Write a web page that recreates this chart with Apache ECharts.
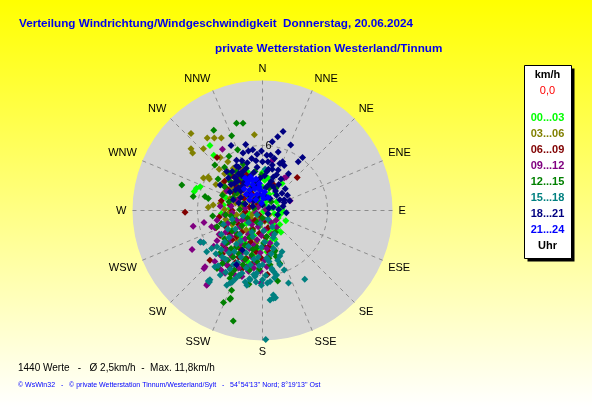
<!DOCTYPE html>
<html>
<head>
<meta charset="utf-8">
<script src="https://cdn.jsdelivr.net/npm/echarts/dist/echarts.min.js"></script>
<style>
html,body{margin:0;padding:0;}
#chart{width:592px;height:407px;}
</style>
</head>
<body>
<div id="chart"></div>
<script>
// ---------- DATA ----------
const directions = ['N','NNE','NE','ENE','E','ESE','SE','SSE','S','SSW','SW','WSW','W','WNW','NW','NNW'];
const speedMax = 12;          // km/h, outer ring
const speedStep = 6;          // km/h, inner ring
const timeSlots = ['00...03','03...06','06...09','09...12','12...15','15...18','18...21','21...24'];
const titleMain = 'Verteilung Windrichtung/Windgeschwindigkeit  Donnerstag, 20.06.2024';
const titleSub = 'private Wetterstation Westerland/Tinnum';
const summaryText = '1440 Werte   -   \u00D8 2,5km/h  -  Max. 11,8km/h';
const footerText = '\u00A9 WsWin32   -   \u00A9 private Wetterstation Tinnum/Westerland/Sylt   -   54\u00B054\'13\'\' Nord; 8\u00B019\'13\'\' Ost';
const legendUnit = 'km/h';
const legendCalm = '0,0';
const legendTimeUnit = 'Uhr';

// wind vectors [east km/h, north km/h], one list per time slot
const slot00_03 = [[-4.85,6.0],[-4.5,5.1],[1.8,2.5],[-6.3,1.75],[-6.1,2.05],[-5.75,2.2],[2.15,-0.95],[1.45,-0.7],[1.6,-0.4],[1.8,0.15],[1.05,-1.65],[1.35,-1.8],[1.15,-2.65],[1.15,1.6],
  [-0.5,1.0],[0.2,0.5],[-1.2,-0.3],[0.5,-0.8],[-0.3,-1.5],[0.9,0.2],[-1.8,0.6],[-2.5,-0.5],[-0.8,-2.3],[0.3,-2.8],[1.0,-1.2],[-1.5,-1.2],[-2.2,1.5],[0.0,2.2],[-1.0,2.8],[0.6,1.5],[1.3,0.8],[-3.0,0.2],[-2.8,-1.8],[-0.2,-3.6],[0.8,-3.3],[-1.6,-3.0],[-3.4,1.2],[-0.6,0.2],[0.1,-0.1],[-1.0,0.8],[0.4,0.9],[-0.4,-0.6],[1.6,-1.3],[0.7,-2.0],[-2.0,-2.5],[-3.3,-1.0],[-0.9,-4.2],[0.0,3.5],[-1.4,3.6],[1.2,2.0],[-2.6,2.6],[-3.8,-0.3],[1.9,-0.1],[0.3,-4.5],[-1.3,1.7],[-0.1,1.2],
  [-2.9,1.9],[-1.9,-3.4],[0.6,-1.0],[-0.7,2.0],[1.5,0.3],[-2.3,-0.9],[0.2,2.8],[-1.1,-1.8],[0.9,-2.6],[-3.6,0.5],[-0.2,0.6],[1.1,-0.3],[-1.7,-0.3],[0.5,3.0],[-2.7,1.0],[-0.5,-2.8],[1.7,-2.0],[-1.3,-4.8],[0.4,-3.8],[-2.1,2.3]];
const slot03_06 = [[-6.6,7.1],[-5.1,6.7],[-4.45,6.7],[-3.8,6.7],[-0.75,7.0],[-6.6,5.7],[-6.45,5.3],[-5.45,5.7],[-5.45,3.0],[-5.0,3.1],[-3.45,2.2],[-3.0,1.1],[-3.9,0.65],[-4.55,0.5],[-4.9,2.9],[-5.0,0.3],
  [-3.9,4.9],[-3.2,4.5],[-2.7,3.9],[-3.5,3.4],[-2.2,3.0],[-1.6,2.5],[-2.9,2.1],[-2.0,1.4],[-3.6,1.6],[-1.2,0.9],[-2.5,0.7],[-1.7,0.2],[-2.4,-0.4],[-3.1,-0.2],[-0.9,-0.3],[-1.5,-0.9],[-2.0,-1.6],[-0.5,0.5],[-1.0,1.9],[-2.6,2.6],[-4.3,2.4],[-3.4,-0.8],[-1.3,-2.2],[0.2,-1.0],[-0.6,-3.0],[-1.8,3.8],[-2.3,-2.8],[0.6,-0.4],
  [-3.2,3.6],[-2.1,2.2],[-1.4,1.5],[-3.7,2.5],[-2.8,-1.3],[-1.1,-0.7],[-3.5,0.1],[-2.0,0.4],[-0.8,1.3],[-4.0,3.8],[-1.5,-1.8],[-2.5,3.2],[-1.9,-0.4],[-0.3,-0.6],[-3.2,-1.8],[-1.0,-2.6]];
const slot06_09 = [[-7.15,-0.15],[-4.2,4.9],[3.2,3.05],[1.0,2.4],[-4.85,-4.6],[0.45,-5.9],[0.55,-3.35],
  [-2.8,3.2],[-1.9,2.6],[-3.3,2.0],[-1.0,1.6],[-2.3,1.0],[-0.4,0.6],[-3.0,0.5],[-1.6,-0.1],[-2.6,-0.9],[-0.7,-0.9],[-3.4,-1.5],[-1.9,-2.0],[-0.3,-2.1],[-2.8,-2.7],[-1.1,-2.9],[-3.6,-3.2],[-2.0,-3.6],[-0.6,-3.8],[-1.5,-4.4],[-2.9,-4.1],[0.3,-2.5],[-1.2,0.3],[-3.8,0.9],[-2.2,-1.3],[-0.2,1.9],[-1.5,3.3],[0.5,-1.6],[-3.1,-2.1],[-2.4,2.2],[-0.9,-1.7],[-4.0,-0.6],[-1.8,1.9],[0.1,-3.3],[-2.5,-4.8],[-3.7,-4.0],
  [-2.1,2.9],[-3.5,2.7],[-0.8,2.3],[-1.7,1.1],[-2.8,0.0],[-0.3,-0.4],[-3.9,-2.3],[-2.4,-2.4],[-1.4,-3.3],[-0.1,-4.4],[-3.3,-3.6],[-2.2,-4.3],[-0.9,-4.9],[-1.9,-5.4],[-3.1,-5.2],[0.6,-3.8],[-4.3,-1.6],[-1.1,-1.1],[0.2,-0.9],[-2.6,1.6]];
const slot09_12 = [[-3.7,5.65],[2.0,3.0],[2.2,3.1],[2.55,0.9],[-6.4,-1.45],[-5.4,-1.1],[-4.7,-1.5],[-6.5,-3.6],[-5.3,-5.2],[-5.4,-5.35],[-5.1,-6.8],[-3.45,-5.8],[-0.15,-6.7],[0.6,-4.1],[-5.15,-6.9],[-5.7,-2.9],[1.25,-0.9],[1.3,-1.55],[0.9,4.6],
  [-3.9,0.4],[-2.8,-0.2],[-1.7,-0.6],[-0.6,-0.2],[-4.2,-0.9],[-3.2,-1.2],[-2.1,-1.5],[-1.0,-1.3],[0.2,-1.8],[-4.0,-2.2],[-2.9,-2.4],[-1.6,-2.6],[-0.5,-2.7],[0.7,-3.0],[-3.6,-3.1],[-2.4,-3.3],[-1.2,-3.5],[-0.2,-3.9],[-3.9,-4.1],[-2.8,-4.3],[-1.7,-4.6],[-0.6,-4.8],[-3.3,-5.0],[-2.2,-5.3],[-4.4,-4.7],[-1.3,-5.6],[0.4,-5.2],[-2.6,-5.9],[-0.9,0.8],[-2.3,0.9],[-3.3,1.8],[-1.4,2.4],[0.3,0.1],[-4.5,-3.3],[-3.0,-3.8],[-1.9,-0.9],[-0.4,-1.5],[0.9,-2.2],[-2.0,3.5],[-0.8,-5.3],[-3.7,-5.6],
  [-3.5,-0.4],[-2.4,-0.9],[-1.3,-0.9],[-0.1,-0.9],[-4.4,-1.6],[-3.4,-2.0],[-2.5,-2.0],[-1.3,-2.2],[-0.1,-2.3],[-4.2,-2.8],[-3.1,-2.9],[-2.0,-3.1],[-0.8,-3.2],[0.4,-3.5],[-3.4,-3.6],[-2.0,-4.0],[-1.0,-4.3],[0.2,-4.6],[-3.6,-4.6],[-2.4,-4.9],[-1.5,-5.2],[-0.2,-5.6],[-2.9,-5.5],[-1.9,-6.1],[-4.0,-5.3],[-2.9,0.4],[-1.6,0.2],[-0.4,0.3],[0.8,-1.1]];
const slot12_15 = [[-2.4,8.05],[-1.8,8.05],[-4.5,7.4],[-2.85,6.9],[-2.3,5.6],[-7.45,2.35],[0.6,2.05],[1.25,2.1],[-6.4,1.3],[-5.3,1.3],[-5.0,1.1],[-4.2,-5.35],[-3.0,-6.25],[-2.85,-7.35],[-1.25,-6.8],[1.4,-6.5],[-2.95,-8.1],[1.6,-4.9],[1.1,-3.8],[1.25,-4.25],[-2.7,-10.2],[-3.0,-8.2],[-3.6,-8.5],[-2.9,-5.85],[1.15,-3.7],
  [-3.5,4.0],[-2.4,3.6],[-1.2,3.1],[-4.1,2.9],[-3.0,2.7],[-0.6,2.6],[-2.0,2.0],[-3.7,1.4],[-1.2,1.3],[-2.7,1.2],[0.2,1.4],[-0.8,0.2],[-2.1,0.1],[-3.4,-0.4],[-1.4,-0.7],[0.0,-0.7],[-2.7,-1.1],[-4.2,-1.5],[-0.9,-1.9],[-2.3,-2.2],[-3.5,-2.6],[0.4,-2.4],[-1.6,-3.2],[-2.9,-3.5],[-0.5,-3.4],[-3.9,-3.9],[-2.2,-4.0],[-1.0,-4.1],[0.6,-4.4],[-3.2,-4.6],[-1.8,-5.0],[-0.3,-5.4],[-2.6,-5.5],[-4.6,-0.5],[-1.8,4.3],[0.8,0.8],[-0.1,3.3],[-3.1,5.0],[-4.4,4.2],
  [-3.0,3.4],[-1.9,3.0],[-0.7,3.6],[-3.5,2.2],[-2.4,1.6],[-1.0,2.2],[-3.1,0.8],[-1.8,0.6],[-0.4,0.9],[-2.9,-0.5],[-1.9,-1.4],[-0.5,-1.1],[-3.8,-1.2],[-2.8,-1.9],[-1.2,-2.5],[0.1,-3.0],[-3.3,-3.0],[-2.4,-3.4],[-0.9,-3.6],[-1.6,-4.5],[-2.7,-4.3],[-0.5,-4.7],[-3.7,-4.9],[-1.2,-5.5],[0.7,-5.0],[-2.1,-6.0],[1.2,-2.0]];
const slot15_18 = [[0.3,-11.9],[0.7,-8.25],[1.0,-8.1],[1.1,-8.0],[3.9,-6.35],[2.4,-6.7],[-5.15,-3.8],[-4.7,-3.5],[-4.2,-3.35],[-4.4,-5.2],[-3.9,-5.95],[-3.3,-6.9],[-3.0,-6.7],[-0.7,-6.1],[-0.55,-5.8],[-0.1,-6.9],[0.45,-6.7],[0.7,-6.55],[1.05,-5.65],[1.3,-5.95],[1.0,-7.8],[1.2,-8.05],[0.6,-4.7],[0.85,-5.35],[-5.75,-2.9],[-5.45,-2.95],[-5.0,-6.5],[-4.85,-6.4],[-1.45,-6.9],[-1.15,-6.4],[-4.9,-6.6],[0.25,3.8],
  [-3.6,-1.3],[-2.5,-1.7],[-1.3,-1.1],[-0.2,-1.2],[0.9,-1.5],[-3.1,-2.5],[-2.0,-2.8],[-0.9,-2.4],[0.2,-2.9],[1.3,-3.1],[-3.8,-3.6],[-2.6,-3.8],[-1.5,-3.9],[-0.4,-4.3],[0.8,-4.0],[-3.4,-4.5],[-2.3,-4.8],[-1.1,-5.0],[0.0,-5.0],[1.4,-4.6],[-3.0,-5.4],[-1.9,-5.8],[-0.8,-5.9],[0.3,-6.0],[-2.5,-6.3],[-1.6,-6.6],[-4.1,-5.1],[2.0,-5.5],[1.8,-3.8],[-0.5,-0.4],[-1.8,-0.5],[-2.8,-0.8],[0.6,0.3],[-3.8,-2.2],[1.0,-2.5],
  [-3.2,-1.7],[-2.1,-2.2],[-1.0,-2.0],[0.1,-1.9],[1.1,-2.2],[-3.5,-2.9],[-2.4,-3.1],[-1.3,-3.3],[-0.1,-3.4],[1.0,-3.5],[-3.1,-3.9],[-2.0,-4.3],[-0.8,-4.5],[0.4,-4.4],[1.6,-4.2],[-3.7,-4.3],[-2.7,-5.0],[-1.5,-5.3],[-0.3,-5.1],[0.9,-5.5],[-3.4,-5.7],[-2.2,-6.0],[-1.2,-6.3],[0.0,-6.4],[1.1,-6.2],[-2.8,-6.6],[1.6,-5.0],[-0.6,-6.6],[-4.3,-4.0],[0.5,-0.8]];
const slot18_21 = [[1.9,7.3],[1.4,6.8],[-2.9,6.0],[-1.55,6.1],[0.9,6.35],[2.6,6.05],[-1.8,5.3],[-1.3,5.5],[-0.9,5.6],[-0.5,5.2],[0.4,5.1],[0.75,5.1],[1.45,5.4],[3.7,4.9],[3.3,4.5],[1.6,4.35],[1.85,4.5],[2.0,4.15],[2.5,0.9],[2.0,0.75],[-2.4,4.65],[-2.2,4.0],[1.45,3.75],[0.55,3.8],[-2.4,-5.0],[-1.85,-3.65],
  [-1.9,4.6],[-1.0,4.8],[0.0,4.5],[0.9,4.2],[-1.5,3.9],[-0.5,4.0],[0.4,3.6],[1.3,3.3],[-2.2,3.4],[-1.1,3.2],[-0.2,3.0],[0.8,2.7],[1.7,2.9],[-1.7,2.6],[-0.7,2.3],[0.3,2.1],[1.2,1.8],[2.1,2.0],[-1.3,1.5],[-0.3,1.4],[0.7,1.1],[1.6,1.0],[-2.0,1.8],[0.0,0.5],[1.0,0.3],[1.9,0.4],[-0.8,0.9],[0.5,-0.3],[1.4,-0.4],[2.3,1.4],[-2.6,2.5],[-0.1,5.5],[1.1,4.8],[2.4,3.4],[-2.4,4.1],[2.2,-0.2],
  [-1.4,4.4],[-0.6,4.6],[0.5,4.5],[-1.8,3.6],[-0.8,3.5],[0.9,3.8],[-2.5,3.0],[0.2,3.2],[1.0,3.1],[-1.4,2.9],[-0.4,2.6],[0.6,2.4],[1.5,2.4],[-2.2,2.1],[-1.0,2.0],[1.0,2.2],[1.8,1.6],[-0.6,1.1],[0.3,1.2],[1.3,1.4],[2.0,1.0],[-1.6,0.6],[0.6,0.2],[1.5,0.1],[-0.9,0.4],
  [-3.9,2.35],[-3.15,3.0],[-2.55,3.1],[-2.9,2.4],[-2.3,2.7],[-3.0,1.7],[-2.5,1.9],[-2.0,1.2],[-2.7,1.0],[-2.2,0.7],[-1.8,2.3],[-1.9,3.2],[-3.3,3.6],[-2.8,3.6]];
const slot21_24 = [[-1.6,3.0],[-1.1,3.1],[-0.6,2.9],[-1.4,2.5],[-0.9,2.4],[-0.3,2.5],[-1.7,2.0],[-1.2,1.9],[-0.7,2.0],[-0.2,1.9],[-1.5,1.5],[-1.0,1.4],[-0.5,1.5],[0.0,1.4],[-1.2,1.0],[-0.6,1.0],[0.1,1.1],[-0.3,2.2],[-0.9,2.8],[0.2,1.7],[-1.3,2.7],[0.5,1.2],[-0.1,0.7]];
const slotData = [slot00_03, slot03_06, slot06_09, slot09_12, slot12_15, slot15_18, slot18_21, slot21_24];

// ---------- STYLE / LAYOUT ----------
const slotColors = ['#00ff00','#808000','#800000','#800080','#008000','#008080','#000080','#0000ff'];
const CX = 262.5, CY = 210.5, R = 130;
const baseFont = 'Arial, "Liberation Sans", sans-serif';
const dashed = {color:'#8c8c8c', width:1, type:[4,4]};

const chart = echarts.init(document.getElementById('chart'), null, {renderer:'canvas'});

const series = slotData.map((d, i) => ({
  type: 'scatter',
  name: timeSlots[i],
  xAxisIndex: 0, yAxisIndex: 0,
  data: d,
  symbol: 'diamond',
  symbolSize: 7,
  itemStyle: {color: slotColors[i], opacity: 1},
  silent: true,
  z: 5
}));

// legend box graphics
const legendX = 547.5;
const slotY = [118,134,150,166,182,198,214,230];
const legendGraphics = [
  {type:'rect', shape:{x:527.5, y:68.5, width:47, height:193}, style:{fill:'#000'}, z:10},
  {type:'rect', shape:{x:524.5, y:65.5, width:47, height:193}, style:{fill:'#fff', stroke:'#000', lineWidth:1}, z:11},
  {type:'text', x:legendX, y:75, style:{text:legendUnit, fill:'#000', font:'bold 11px ' + baseFont, textAlign:'center', textVerticalAlign:'middle'}, z:12},
  {type:'text', x:legendX, y:91, style:{text:legendCalm, fill:'#ff0000', font:'11px ' + baseFont, textAlign:'center', textVerticalAlign:'middle'}, z:12},
  {type:'text', x:legendX, y:246, style:{text:legendTimeUnit, fill:'#000', font:'bold 11px ' + baseFont, textAlign:'center', textVerticalAlign:'middle'}, z:12}
].concat(timeSlots.map((t, i) => ({
  type:'text', x:legendX, y:slotY[i],
  style:{text:t, fill:slotColors[i], font:'bold 11px ' + baseFont, textAlign:'center', textVerticalAlign:'middle'}, z:12
})));

const option = {
  animation: false,
  backgroundColor: {type:'linear', x:0, y:0, x2:0, y2:1, colorStops:[{offset:0, color:'#ffff00'},{offset:1, color:'#ffffff'}]},
  title: [
    {text: titleMain, left: 19, top: 18, padding: 0, textStyle:{color:'#0000ee', fontSize:11.7, fontWeight:'bold', fontFamily: baseFont}},
    {text: titleSub, left: 215, top: 43, padding: 0, textStyle:{color:'#0000ee', fontSize:11.7, fontWeight:'bold', fontFamily: baseFont}},
    {text: summaryText, left: 18, top: 363, padding: 0, textStyle:{color:'#000', fontSize:10, fontWeight:'normal', fontFamily: baseFont}},
    {text: footerText, left: 18, top: 382, padding: 0, textStyle:{color:'#0000ff', fontSize:7, fontWeight:'normal', fontFamily: baseFont}}
  ],
  polar: [{center:[CX, CY], radius: R}, {center:[CX, CY], radius: R}],
  angleAxis: [
    { // background disc + direction labels
      polarIndex: 0, type:'value', min:0, max:360, interval:22.5, startAngle:90, clockwise:true, z:1,
      axisLine:{show:false}, axisTick:{show:false},
      axisLabel:{show:true, margin:6, color:'#000', fontSize:11, fontFamily: baseFont,
        formatter: v => directions[Math.round(v/22.5) % 16]},
      splitLine:{show:false},
      splitArea:{show:true, areaStyle:{color:['#d4d4d4']}}
    },
    { // dashed direction spokes
      polarIndex: 1, type:'value', min:0, max:360, interval:22.5, startAngle:90, clockwise:true, z:2,
      axisLine:{show:false}, axisTick:{show:false}, axisLabel:{show:false},
      splitLine:{show:true, lineStyle: dashed},
      splitArea:{show:false}
    }
  ],
  radiusAxis: [
    {
      polarIndex: 0, type:'value', min:0, max:speedMax, interval:speedStep, z:1,
      axisLine:{show:false}, axisTick:{show:false}, axisLabel:{show:false},
      splitLine:{show:false}, splitArea:{show:false}
    },
    { // dashed speed ring + label
      polarIndex: 1, type:'value', min:0, max:speedMax, interval:speedStep, z:3,
      axisLine:{show:false}, axisTick:{show:false},
      axisLabel:{show:true, color:'#000', fontSize:11, fontFamily: baseFont, margin:-9,
        formatter: v => (v === speedStep ? String(v) : '')},
      splitLine:{show:true, lineStyle:{color:['#8c8c8c','#8c8c8c','rgba(0,0,0,0)'], width:1, type:[4,4]}},
      splitArea:{show:false}
    }
  ],
  grid: {left: CX - R, top: CY - R, width: 2*R, height: 2*R, show:false},
  xAxis: {type:'value', min:-speedMax, max:speedMax, show:false},
  yAxis: {type:'value', min:-speedMax, max:speedMax, show:false},
  series: series,
  graphic: legendGraphics
};
chart.setOption(option);
</script>
</body>
</html>
